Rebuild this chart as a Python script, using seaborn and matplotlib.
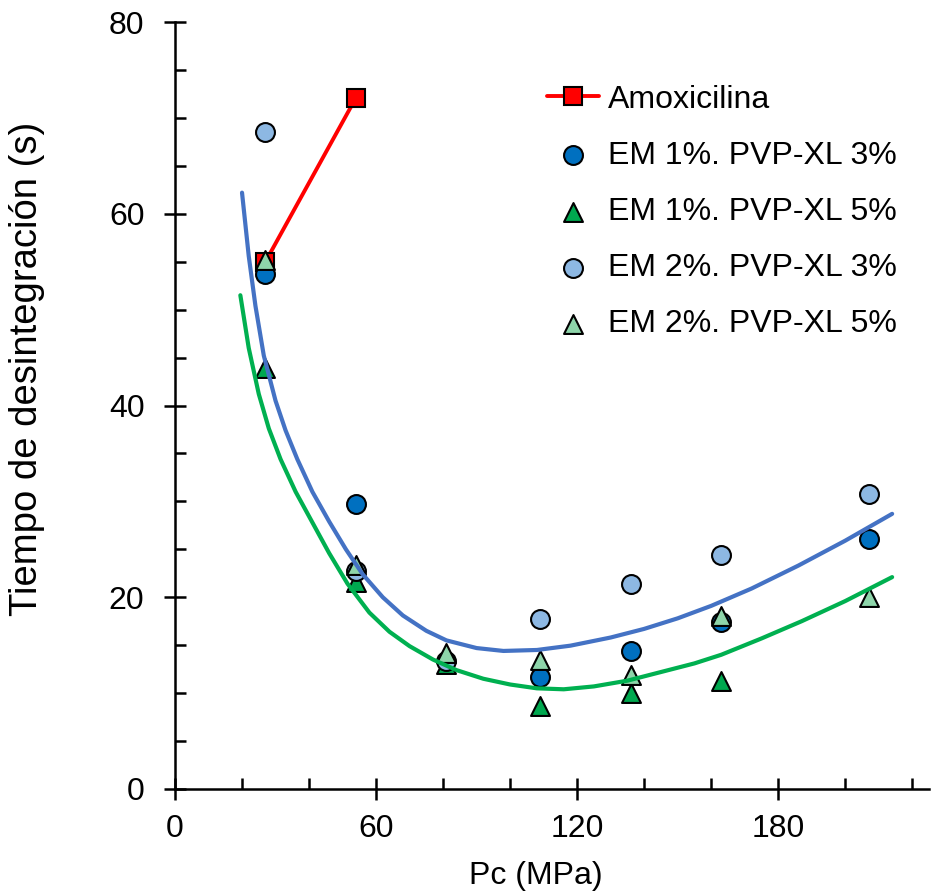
import matplotlib
matplotlib.use("Agg")
import matplotlib.pyplot as plt
import numpy as np
import pandas as pd
import seaborn as sns
from matplotlib.ticker import MultipleLocator

# compression pressure (MPa) for the tablet series
pc = [27, 54, 81, 109, 136, 163, 207]
nan = np.nan
em1_pvp3 = [53.7, 29.7, nan, 11.7, 14.4, 17.4, 26.1]
em1_pvp5 = [43.9, 21.6, 13.0, 8.7, 10.0, 11.3, nan]
em2_pvp3 = [68.5, 22.7, 13.3, 17.7, 21.4, 24.4, 30.8]
em2_pvp5 = [55.2, 23.4, 14.2, 13.5, 11.9, 18.0, 20.0]

amox_x = [27, 54]
amox_y = [55.0, 72.1]

# trend curves
blue_x = [20, 22, 24, 26.5, 30, 33, 36.5, 41, 46, 51, 56, 62, 68, 75, 81, 90, 98,
          108, 118, 130, 140, 150, 160, 172, 186, 200, 214]
blue_y = [62.2, 55.6, 50.4, 45.2, 40.5, 37.4, 34.4, 31.0, 27.9, 25.0, 22.4, 20.0, 18.1,
          16.5, 15.5, 14.7, 14.4, 14.5, 14.95, 15.8, 16.7, 17.8, 19.1, 20.9, 23.3, 25.9, 28.7]
green_x = [19.5, 22, 25, 28, 31.5, 36, 41, 46, 51.5, 58, 64, 70, 77, 84, 92, 100, 108,
           116, 125, 135, 145, 155, 163, 175, 187, 200, 214]
green_y = [51.5, 46.0, 41.2, 37.6, 34.4, 31.0, 27.8, 24.6, 21.4, 18.4, 16.4, 14.9, 13.5,
           12.4, 11.5, 10.9, 10.5, 10.4, 10.7, 11.3, 12.2, 13.1, 14.0, 15.7, 17.5, 19.6, 22.1]

sns.set_style("ticks")
plt.rcParams["font.family"] = ["Liberation Sans", "DejaVu Sans"]
plt.rcParams["text.color"] = "black"
plt.rcParams["axes.labelcolor"] = "black"
fs = 23

fig = plt.figure(figsize=(9.35, 8.94), dpi=100)
ax = fig.add_axes([175 / 935, (894 - 789) / 894, (929 - 175) / 935, (789 - 22) / 894])

sns.lineplot(x=amox_x, y=amox_y, ax=ax, color="#FF0000", lw=2.8, marker="s",
             markersize=13, markerfacecolor="#FF0000", markeredgecolor="black",
             markeredgewidth=1.5, label="Amoxicilina", zorder=2)

series = [
    ("EM 1%. PVP-XL 3%", em1_pvp3, "o", "#0070C0"),
    ("EM 1%. PVP-XL 5%", em1_pvp5, "^", "#00A84F"),
    ("EM 2%. PVP-XL 3%", em2_pvp3, "o", "#8DB8E3"),
    ("EM 2%. PVP-XL 5%", em2_pvp5, "^", "#8ED5AA"),
]
for name, vals, mk, col in series:
    d = pd.DataFrame({"pc": pc, "t": vals}).dropna()
    sns.scatterplot(data=d, x="pc", y="t", ax=ax, marker=mk, s=185, color=col,
                    edgecolor="black", linewidth=1.5, label=name, zorder=3)

sns.lineplot(x=blue_x, y=blue_y, ax=ax, color="#4472C4", lw=3, zorder=4, legend=False)
sns.lineplot(x=green_x, y=green_y, ax=ax, color="#00B050", lw=3, zorder=4, legend=False)
for ln in ax.lines:
    ln.set_solid_joinstyle("round")

ax.set_xlim(0, 225)
ax.set_ylim(0, 80)
ax.set_xticks([0, 60, 120, 180])
ax.xaxis.set_minor_locator(MultipleLocator(20))
ax.yaxis.set_major_locator(MultipleLocator(20))
ax.yaxis.set_minor_locator(MultipleLocator(5))
ax.tick_params(which="major", direction="inout", length=16, width=1.8, labelsize=fs,
               color="black", labelcolor="black")
ax.tick_params(axis="y", which="major", pad=14)
ax.tick_params(axis="x", which="major", pad=10)
ax.tick_params(which="minor", direction="in", length=8, width=1.8, color="black")
for side in ["top", "right"]:
    ax.spines[side].set_visible(False)
for side in ["left", "bottom"]:
    ax.spines[side].set_linewidth(1.8)
    ax.spines[side].set_color("black")

ax.set_xlabel("Pc (MPa)", fontsize=fs, va="center")
ax.xaxis.set_label_coords(0.479, -0.113)
ax.set_ylabel("Tiempo de desintegración (s)", fontsize=27.5)
ax.yaxis.set_label_coords(-0.172, 0.548)

ax.legend(frameon=False, loc="upper left", bbox_to_anchor=(0.477, 0.935),
          borderaxespad=0, fontsize=fs, handletextpad=0.3, labelspacing=0.82,
          handlelength=1.6)

fig.savefig("out.png", dpi=100)
